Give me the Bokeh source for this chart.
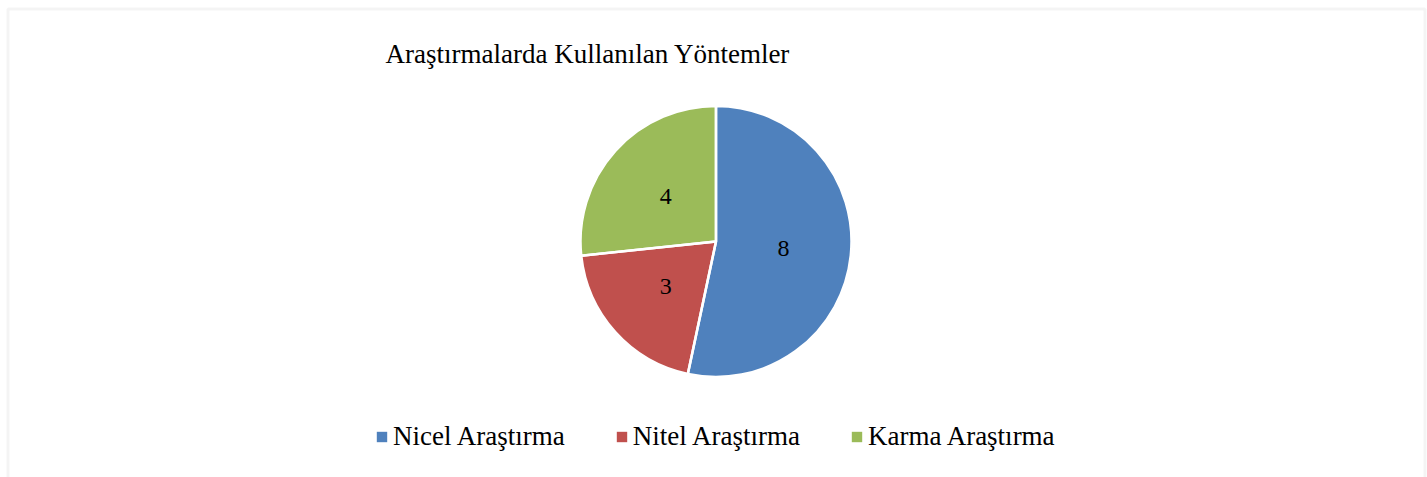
import math
from bokeh.plotting import figure
from bokeh.models import Range1d, ColumnDataSource, Label, BoxAnnotation, Legend, LegendItem
from bokeh.core.properties import value
from bokeh.embed import file_html
from bokeh.resources import INLINE

categories = ["Nicel Araştırma", "Nitel Araştırma", "Karma Araştırma"]
counts = [8, 3, 4]
colors = ["#4F81BD", "#C0504D", "#9BBB59"]
title_text = "Araştırmalarda Kullanılan  Yöntemler"

W, H = 1427, 477
CX, CY, R = 715.5, H - 241, 135.5
FONT = "Liberation Serif"

total = sum(counts)
starts, ends, lx, ly = [], [], [], []
a = math.pi / 2
for c in counts:
    sweep = 2 * math.pi * c / total
    starts.append(a - sweep)
    ends.append(a)
    mid = a - sweep / 2
    lx.append(CX + 0.5 * R * math.cos(mid))
    ly.append(CY + 0.5 * R * math.sin(mid))
    a -= sweep

src = ColumnDataSource(dict(cat=categories, val=counts, color=colors,
                            start=starts, end=ends, lx=lx, ly=ly,
                            lbl=[str(v) for v in counts]))

p = figure(width=W, height=H, output_backend="svg", toolbar_location=None,
           x_range=Range1d(0, W), y_range=Range1d(0, H), min_border=0,
           background_fill_color="white", border_fill_color="white")
p.axis.visible = False
p.grid.visible = False
p.outline_line_color = None

r = p.wedge(x=CX, y=CY, radius=R, start_angle="start", end_angle="end",
            fill_color="color", line_color=None, source=src)
p.wedge(x=CX, y=CY, radius=R, start_angle="start", end_angle="end",
        fill_alpha=0, line_color="white", line_width=2.5, source=src)
p.text(x="lx", y="ly", text="lbl", source=src, text_font=value(FONT),
       text_font_size="24px", text_align="center", text_baseline="middle",
       text_color="black")

p.add_layout(Label(x=385, y=H - 53, text=title_text, text_font=FONT,
                   text_font_size="27px", text_baseline="alphabetic",
                   text_color="black"))

p.add_layout(BoxAnnotation(left=7.5, right=1424.5, top=H - 8.5, bottom=-20,
                           fill_alpha=0, line_color="#d9d9d9", line_width=3))

legend = Legend(items=[LegendItem(label=categories[i], renderers=[r], index=i)
                       for i in range(3)],
                orientation="horizontal", location=(375, 25),
                glyph_width=13, glyph_height=13, label_standoff=5, spacing=50,
                label_text_font=FONT, label_text_font_size="27px",
                label_text_color="black", border_line_color=None,
                background_fill_alpha=0, padding=0, margin=0,
                label_height=20)
p.add_layout(legend, "center")

open("out.html", "w").write(file_html(p, INLINE))
